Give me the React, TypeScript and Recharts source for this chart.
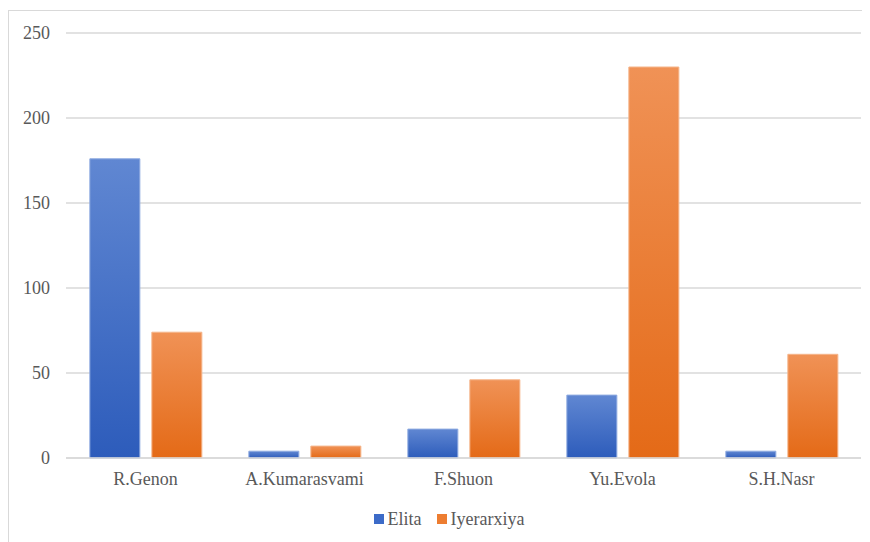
import React from "react";
import { BarChart, Bar, XAxis, YAxis, CartesianGrid, Legend } from "recharts";

const authors = ["R.Genon", "A.Kumarasvami", "F.Shuon", "Yu.Evola", "S.H.Nasr"];
const elita = [176, 4, 17, 37, 4];
const iyerarxiya = [74, 7, 46, 230, 61];
const yTicks = [0, 50, 100, 150, 200, 250];

const data = authors.map((name, i) => ({ name, Elita: elita[i], Iyerarxiya: iyerarxiya[i] }));

const serif = "'Liberation Serif', 'Times New Roman', serif";
const textStyle = { fill: "#595959", fontSize: 18 };

const legendItems = [
  { label: "Elita", color: "#3c6bc8" },
  { label: "Iyerarxiya", color: "#ed7d31" },
];

const CustomLegend = () => (
  <div
    style={{
      display: "flex",
      justifyContent: "center",
      alignItems: "center",
      height: 30,
      lineHeight: "26px",
      paddingLeft: 28,
      paddingBottom: 4,
      boxSizing: "border-box",
      fontFamily: serif,
      fontSize: 18,
      color: "#595959",
    }}
  >
    {legendItems.map((item, i) => (
      <div key={item.label} style={{ display: "flex", alignItems: "center", marginLeft: i ? 15 : 0 }}>
        <span style={{ width: 10, height: 10, background: item.color, marginRight: 4, display: "inline-block" }} />
        <span>{item.label}</span>
      </div>
    ))}
  </div>
);

const App = () => {
  return (
    <div
      style={{
        marginTop: 2,
        width: 880,
        height: 540,
        borderTop: "1px solid #d9d9d9",
        borderLeft: "1px solid #d9d9d9",
        background: "#fff",
        fontFamily: serif,
      }}
    >
      <BarChart
        width={860}
        height={530}
        data={data}
        margin={{ top: 22, right: 8, bottom: 5, left: 0 }}
        barCategoryGap="15%"
        barGap={12}
        style={{ fontFamily: serif }}
      >
        <defs>
          <linearGradient id="gradBlue" x1="0" y1="0" x2="0" y2="1">
            <stop offset="0%" stopColor="#6087d2" />
            <stop offset="100%" stopColor="#2d5cbb" />
          </linearGradient>
          <linearGradient id="gradOrange" x1="0" y1="0" x2="0" y2="1">
            <stop offset="0%" stopColor="#f09256" />
            <stop offset="100%" stopColor="#e46a17" />
          </linearGradient>
        </defs>
        <CartesianGrid vertical={false} stroke="#d9d9d9" strokeWidth={1.5} />
        <XAxis
          dataKey="name"
          height={48}
          axisLine={{ stroke: "#d9d9d9", strokeWidth: 1.5 }}
          tickLine={false}
          tickMargin={8}
          tick={textStyle}
        />
        <YAxis
          width={57}
          domain={[0, 250]}
          ticks={yTicks}
          axisLine={false}
          tickLine={false}
          tickMargin={10}
          tick={textStyle}
        />
        <Legend verticalAlign="bottom" wrapperStyle={{ height: 30 }} content={<CustomLegend />} />
        <Bar dataKey="Elita" fill="url(#gradBlue)" stroke="#8eaae0" strokeWidth={1} isAnimationActive={false} />
        <Bar dataKey="Iyerarxiya" fill="url(#gradOrange)" stroke="#f5b58a" strokeWidth={1} isAnimationActive={false} />
      </BarChart>
    </div>
  );
};

export default App;
